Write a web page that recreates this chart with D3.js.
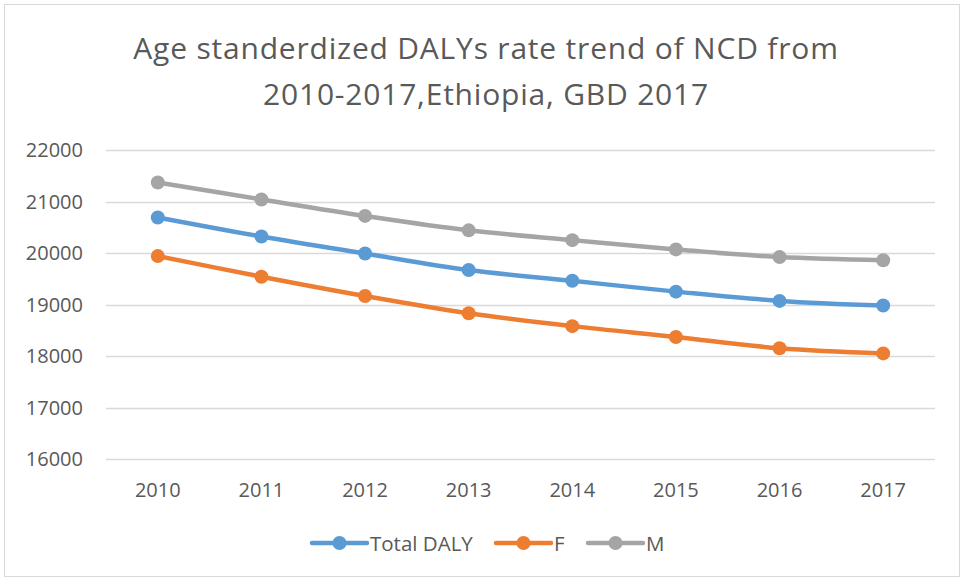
<!DOCTYPE html>
<html>
<head>
<meta charset="utf-8">
<script src="https://cdn.jsdelivr.net/npm/d3@7"></script>
<style>
  body { margin: 0; background: #fff; }
  text { font-family: "Open Sans", sans-serif; fill: #595959; }
</style>
</head>
<body>
<div id="chart"></div>
<script>
var w = 964;
var h = 581;

// data
var years = ["2010", "2011", "2012", "2013", "2014", "2015", "2016", "2017"];
var totalDaly = [20690, 20320, 19990, 19670, 19460, 19250, 19070, 18980];
var female = [19940, 19540, 19165, 18830, 18580, 18370, 18150, 18050];
var male = [21370, 21040, 20720, 20440, 20250, 20070, 19920, 19860];
var yTicks = [16000, 17000, 18000, 19000, 20000, 21000, 22000];
var seriesNames = ["Total DALY", "F", "M"];
var colors = ["#5b9bd5", "#ed7d31", "#a5a5a5"];

var series = [totalDaly, female, male].map(function (vals, i) {
    return { name: seriesNames[i], color: colors[i], values: vals };
});

var svg = d3.select("#chart")
    .append("svg")
    .attr("width", w)
    .attr("height", h);

// chart border
svg.append("rect")
    .attr("x", 4.5)
    .attr("y", 4.5)
    .attr("width", w - 9)
    .attr("height", h - 9)
    .attr("fill", "none")
    .attr("stroke", "#d9d9d9");

// title
svg.append("text")
    .attr("x", 486)
    .attr("y", 59)
    .attr("text-anchor", "middle")
    .attr("font-size", "30px")
    .attr("letter-spacing", "0.8px")
    .text("Age standerdized DALYs rate trend of NCD from");
svg.append("text")
    .attr("x", 486)
    .attr("y", 105)
    .attr("text-anchor", "middle")
    .attr("font-size", "30px")
    .attr("letter-spacing", "0.8px")
    .text("2010-2017,Ethiopia, GBD 2017");

var xScale = d3.scaleBand()
    .domain(years)
    .range([106, 935]);

var yScale = d3.scaleLinear()
    .domain([16000, 22000])
    .range([459, 150]);

// gridlines
svg.selectAll("line.grid")
    .data(yTicks)
    .enter()
    .append("line")
    .attr("class", "grid")
    .attr("x1", 106)
    .attr("x2", 935)
    .attr("y1", function (d) { return Math.round(yScale(d)) + 0.5; })
    .attr("y2", function (d) { return Math.round(yScale(d)) + 0.5; })
    .attr("stroke", "#d9d9d9")
    .attr("stroke-width", 1.5);

// y labels
svg.selectAll("text.ylab")
    .data(yTicks)
    .enter()
    .append("text")
    .attr("class", "ylab")
    .attr("x", 83)
    .attr("y", function (d) { return yScale(d) + 7; })
    .attr("text-anchor", "end")
    .attr("font-size", "20px")
    .text(function (d) { return d; });

// x labels
svg.selectAll("text.xlab")
    .data(years)
    .enter()
    .append("text")
    .attr("class", "xlab")
    .attr("x", function (d) { return xScale(d) + xScale.bandwidth() / 2; })
    .attr("y", 497)
    .attr("text-anchor", "middle")
    .attr("font-size", "20px")
    .text(function (d) { return d; });

var line = d3.line()
    .x(function (d, i) { return xScale(years[i]) + xScale.bandwidth() / 2; })
    .y(function (d) { return yScale(d); })
    .curve(d3.curveCatmullRom.alpha(0.5));

series.forEach(function (s) {
    svg.append("path")
        .datum(s.values)
        .attr("d", line)
        .attr("fill", "none")
        .attr("stroke", s.color)
        .attr("stroke-width", 4.5)
        .attr("stroke-linecap", "round");

    svg.selectAll("circle.s" + s.name.replace(/\s/g, ""))
        .data(s.values)
        .enter()
        .append("circle")
        .attr("cx", function (d, i) { return xScale(years[i]) + xScale.bandwidth() / 2; })
        .attr("cy", function (d) { return yScale(d); })
        .attr("r", 7)
        .attr("fill", s.color);
});

// legend
var legendX = [312, 496, 588];
var legend = svg.selectAll("g.legend")
    .data(series)
    .enter()
    .append("g")
    .attr("class", "legend")
    .attr("transform", function (d, i) { return "translate(" + legendX[i] + ",543)"; });

legend.append("line")
    .attr("x1", 0)
    .attr("x2", 55)
    .attr("stroke", function (d) { return d.color; })
    .attr("stroke-width", 4.5)
    .attr("stroke-linecap", "round");

legend.append("circle")
    .attr("cx", 27.5)
    .attr("r", 7)
    .attr("fill", function (d) { return d.color; });

legend.append("text")
    .attr("x", 58)
    .attr("y", 7.5)
    .attr("font-size", "20.5px")
    .text(function (d) { return d.name; });
</script>
</body>
</html>
